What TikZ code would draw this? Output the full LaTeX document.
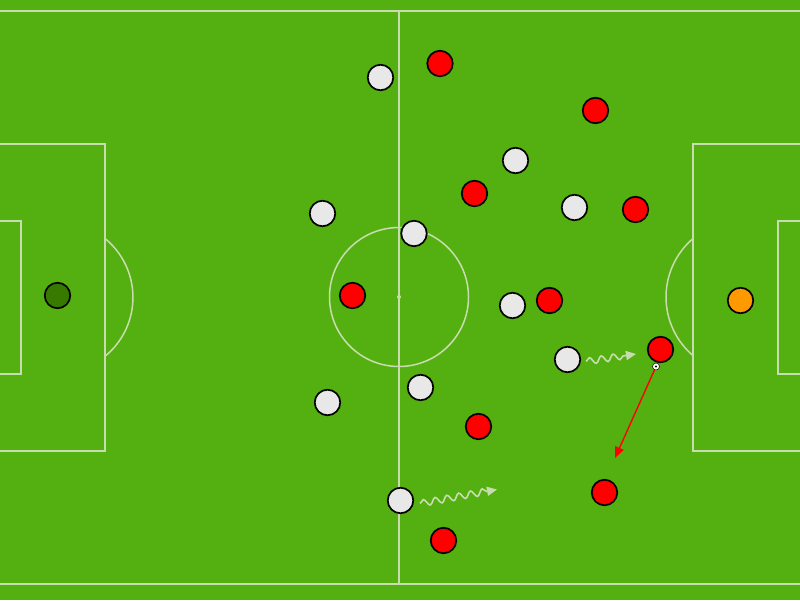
\documentclass[tikz,border=0pt]{standalone}
\usetikzlibrary{arrows.meta,decorations.pathmorphing}
\definecolor{grass}{RGB}{84,176,16}
\definecolor{pline}{RGB}{200,220,175}
\definecolor{whiteshirt}{RGB}{232,232,232}
\definecolor{gkgreen}{RGB}{56,122,0}
\definecolor{gkorange}{RGB}{255,153,0}
\tikzset{
  pitchline/.style={draw=pline,line width=1.5pt},
  player/.style={circle,draw=black,line width=1.7pt,minimum size=25.5pt,inner sep=0pt},
  whitep/.style={player,fill=whiteshirt},
  redp/.style={player,fill=red},
  run/.style={draw=pline,line width=1.6pt,decorate,decoration={snake,amplitude=3.3pt,segment length=12pt,post length=10pt},-{Triangle[length=10pt,width=9pt]}},
  pass/.style={draw=red,line width=1.4pt,-{Triangle[length=11pt,width=9pt]}},
  ballstyle/.style={circle,draw=black,fill=white,line width=0.5pt,minimum size=7pt,inner sep=0pt}
}
\begin{document}
\begin{tikzpicture}[x=1pt,y=-1pt]
\useasboundingbox (0,0) rectangle (800,600);
\fill[grass] (0,0) rectangle (800,600);
% pitch markings
\draw[pitchline] (-5,11) -- (805,11);
\draw[pitchline] (-5,584) -- (805,584);
\draw[pitchline] (399,11) -- (399,584);
\draw[pitchline] (399,297) circle[radius=69.5];
\fill[pline] (399,297) circle[radius=2];
% left
\draw[pitchline] (-5,144) -- (105,144) -- (105,451) -- (-5,451);
\draw[pitchline] (-5,221) -- (21,221) -- (21,374) -- (-5,374);
\draw[pitchline] (105,238.5) arc[start angle=-50.8,end angle=50.8,radius=76] ;
% right
\draw[pitchline] (805,144) -- (693,144) -- (693,451) -- (805,451);
\draw[pitchline] (805,221) -- (778,221) -- (778,374) -- (805,374);
\draw[pitchline] (693,238.5) arc[start angle=-130.5,end angle=-229.5,radius=77];
% goalkeepers
\node[player,fill=gkgreen] (gkl) at (57.5,295.5) {};
\node[player,fill=gkorange] (gkr) at (740.5,300.5) {};
% white team
\node[whitep] (w1) at (380.5,77.5) {};
\node[whitep] (w2) at (515.5,160.5) {};
\node[whitep] (w3) at (322.5,213.5) {};
\node[whitep] (w4) at (414,233.5) {};
\node[whitep] (w5) at (574.5,207.5) {};
\node[whitep] (w6) at (512.5,305.5) {};
\node[whitep] (w7) at (567.5,359.5) {};
\node[whitep] (w8) at (420.5,387.5) {};
\node[whitep] (w9) at (327.5,402.5) {};
\node[whitep] (w10) at (400.5,500.5) {};
% red team
\node[redp] (r1) at (440,63.5) {};
\node[redp] (r2) at (595.5,110.5) {};
\node[redp] (r3) at (474.5,193.5) {};
\node[redp] (r4) at (635.5,209.5) {};
\node[redp] (r5) at (352.5,295.5) {};
\node[redp] (r6) at (549.5,300.5) {};
\node[redp] (r7) at (660.5,349.5) {};
\node[redp] (r8) at (478.5,426.5) {};
\node[redp] (r9) at (604.5,492.5) {};
\node[redp] (r10) at (443.5,540.5) {};
% ball
\node[ballstyle] (ball) at (656,366.5) {};
\fill[black] (ball.center) circle[radius=1.2];
% movement
\coordinate (run1end) at (636,354);
\coordinate (run2end) at (497,489.5);
\coordinate (passend) at (615,458);
\draw[run] ([xshift=5pt,yshift=-2pt]w7.east) -- (run1end);
\draw[run] ([xshift=6pt,yshift=-3pt]w10.east) -- (run2end);
\draw[pass] (ball) -- (passend);
\end{tikzpicture}
\end{document}
